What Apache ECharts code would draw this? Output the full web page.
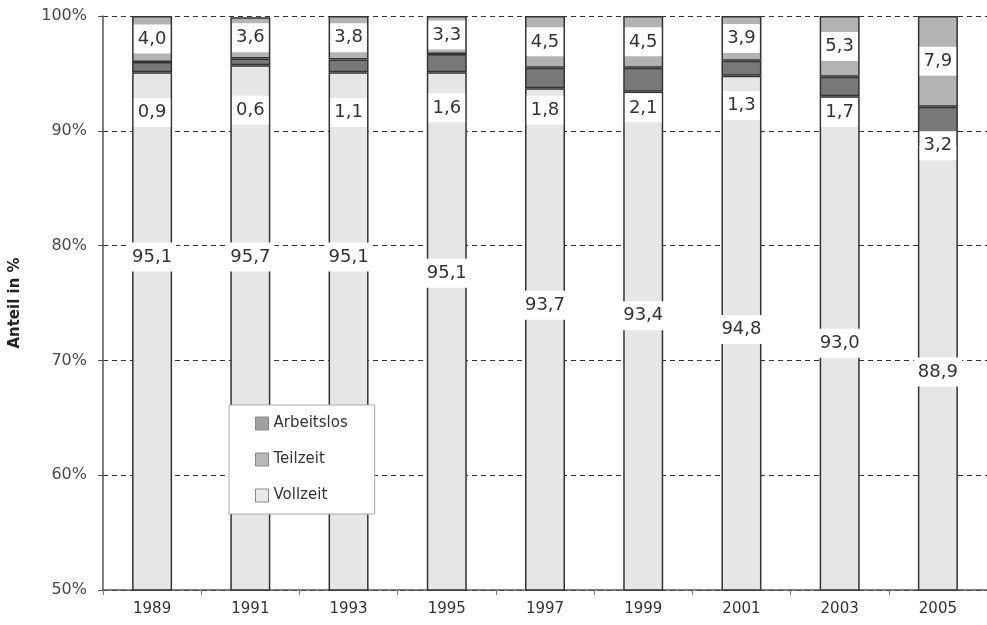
<!DOCTYPE html>
<html>
<head>
<meta charset="utf-8">
<script src="https://cdn.jsdelivr.net/npm/echarts@6/dist/echarts.min.js"></script>
<style>
html,body{margin:0;padding:0;background:#fff;}
#c{width:987px;height:625px;}
</style>
</head>
<body>
<div id="c"></div>
<script>
// ---- data ----
var years = ['1989','1991','1993','1995','1997','1999','2001','2003','2005'];
var vollzeit   = [95.1, 95.7, 95.1, 95.1, 93.7, 93.4, 94.8, 93.0, 88.9];
var arbeitslos = [0.9, 0.6, 1.1, 1.6, 1.8, 2.1, 1.3, 1.7, 3.2];
var teilzeit   = [4.0, 3.6, 3.8, 3.3, 4.5, 4.5, 3.9, 5.3, 7.9];
var yTicks = [50, 60, 70, 80, 90, 100];
// label anchor heights (in % of the y axis) where labels were placed in the original
var arbeitslosLabelAt = [91.6, 91.8, 91.6, 92.0, 91.8, 92.0, 92.2, 91.6, 88.7];
var vollzeitLabelAt   = [79.0, 79.0, 79.0, 77.6, 74.8, 73.9, 72.7, 71.5, 69.0];

var FONT = 'DejaVu Sans';
function fmt(v){ return v.toFixed(1).replace('.', ','); }

var labelBox = {
  show: true,
  color: '#333',
  fontFamily: FONT,
  fontSize: 18,
  backgroundColor: '#fff',
  opacity: 1,
  padding: [6, 4, 5, 4]
};

var barStyle = function(c){ return { color: c, borderColor: '#333', borderWidth: 1.5 }; };

var chart = echarts.init(document.getElementById('c'), null, {renderer: 'canvas'});
chart.setOption({
  animation: false,
  backgroundColor: '#fff',
  grid: { left: 103, top: 16, bottom: 35, right: 0, containLabel: false },
  legend: {
    orient: 'vertical',
    left: 229, top: 405,
    icon: 'rect',
    data: [
      {name: 'Arbeitslos', itemStyle: {color: '#a0a0a0'}},
      {name: 'Teilzeit', itemStyle: {color: '#b8b8b8'}},
      {name: 'Vollzeit', itemStyle: {color: '#e8e8e8'}}
    ],
    backgroundColor: '#fff',
    borderColor: '#aaa',
    borderWidth: 1,
    padding: [11, 27, 11, 26],
    itemGap: 21,
    itemWidth: 13,
    itemHeight: 13,
    textStyle: { fontFamily: FONT, fontSize: 15, color: '#333' },
    itemStyle: { borderColor: '#888', borderWidth: 1 }
  },
  xAxis: {
    type: 'category',
    data: years,
    axisLine: { lineStyle: { color: '#555', width: 1.5 } },
    axisTick: { show: true, length: 5, lineStyle: { color: '#777' } },
    axisLabel: { fontFamily: FONT, fontSize: 15, color: '#333', margin: 12 }
  },
  yAxis: {
    type: 'value',
    min: yTicks[0], max: yTicks[yTicks.length-1], interval: 10,
    name: 'Anteil in %',
    nameLocation: 'middle',
    nameGap: 80,
    nameTextStyle: { fontFamily: FONT, fontSize: 15, fontWeight: 'bold', color: '#222' },
    axisLine: { show: true, lineStyle: { color: '#555', width: 1.5 } },
    axisTick: { show: true, length: 5, lineStyle: { color: '#555' } },
    axisLabel: { fontFamily: FONT, fontSize: 16, color: '#4a4a4a', margin: 16, formatter: '{value}%' },
    splitLine: { show: true, lineStyle: { color: '#333', width: 1, type: [5, 4] } }
  },
  series: [
    { name: 'Vollzeit', type: 'bar', stack: 's', barWidth: 40, data: vollzeit,
      itemStyle: barStyle('#e6e6e6'), z: 2 },
    { name: 'Arbeitslos', type: 'bar', stack: 's', barWidth: 40, data: arbeitslos,
      itemStyle: barStyle('#787878'), z: 2 },
    { name: 'Teilzeit', type: 'bar', stack: 's', barWidth: 40, data: teilzeit,
      itemStyle: barStyle('#b3b3b3'), z: 2,
      label: Object.assign({}, labelBox, { position: 'inside', formatter: function(p){ return fmt(p.value); } }) },
    { name: 'lblA', type: 'scatter', symbolSize: 1, z: 5, silent: true,
      itemStyle: { opacity: 1, color: 'rgba(0,0,0,0)' },
      data: years.map(function(y,i){ return [y, arbeitslosLabelAt[i], arbeitslos[i]]; }),
      label: Object.assign({}, labelBox, { position: 'inside', formatter: function(p){ return fmt(p.value[2]); } }) },
    { name: 'lblV', type: 'scatter', symbolSize: 1, z: 5, silent: true,
      itemStyle: { opacity: 1, color: 'rgba(0,0,0,0)' },
      data: years.map(function(y,i){ return [y, vollzeitLabelAt[i], vollzeit[i]]; }),
      label: Object.assign({}, labelBox, { position: 'inside', formatter: function(p){ return fmt(p.value[2]); } }) }
  ]
});
</script>
</body>
</html>
